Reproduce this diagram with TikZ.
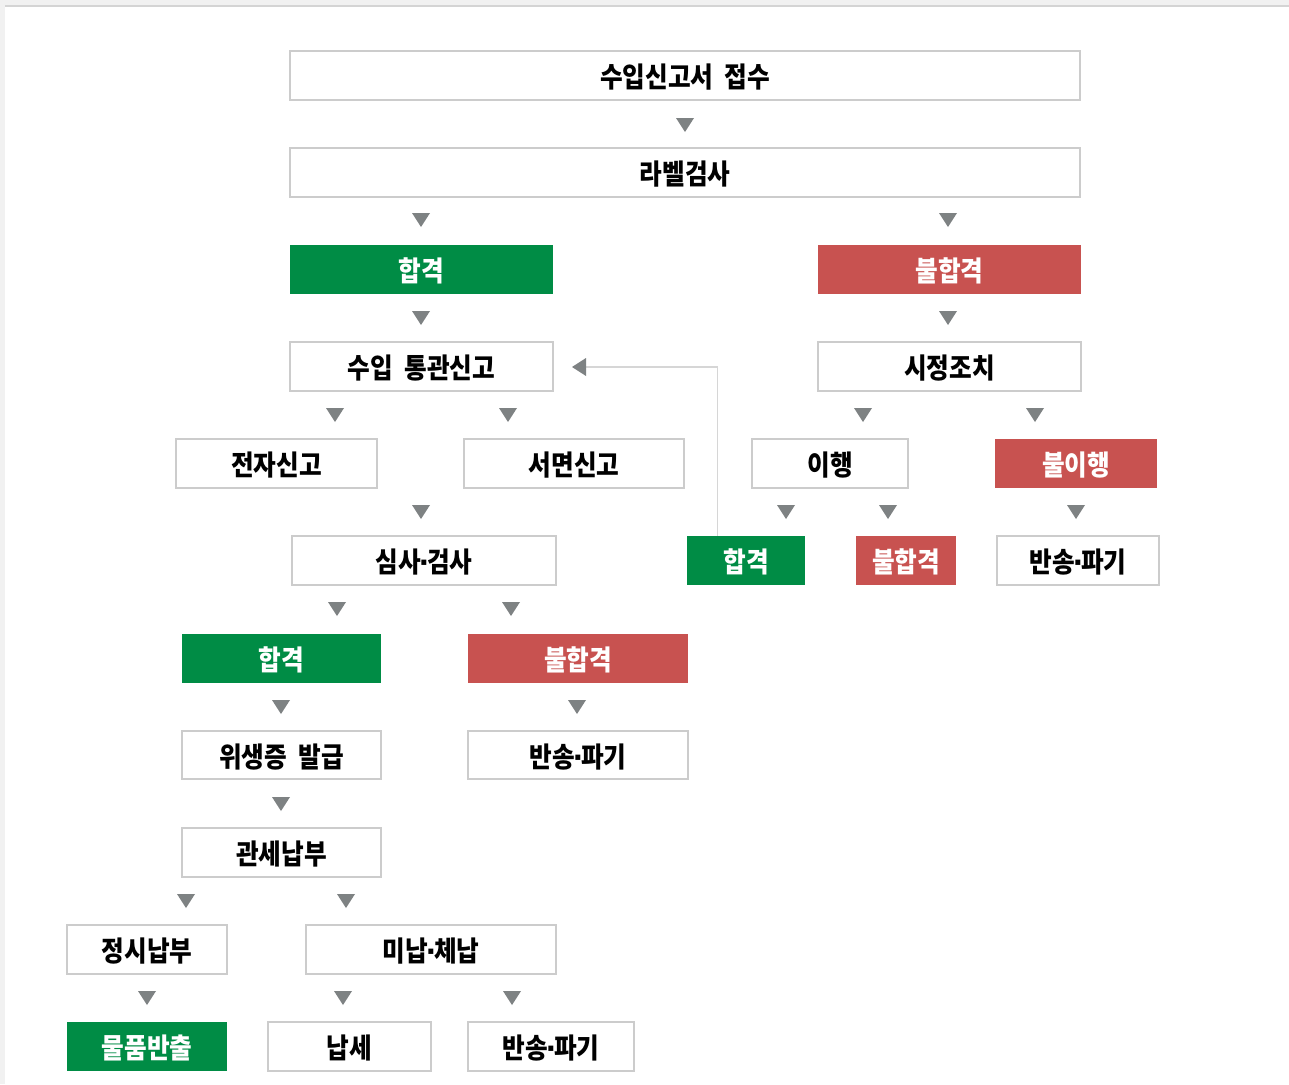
\documentclass[tikz,border=0pt]{standalone}
\usepackage{fontspec}
\newfontfamily\kr{Noto Sans CJK KR}[FakeStretch=0.88]
\newfontfamily\dv{DejaVu Sans}
\definecolor{pass}{HTML}{008C45}
\definecolor{fail}{HTML}{C85250}
\definecolor{edge}{HTML}{CCCCCC}
\definecolor{tri}{HTML}{7E8283}
\definecolor{link}{HTML}{D6D6D6}
\newcommand\md{{\dv\bfseries\kern-.08em·\kern-.08em}}
\tikzset{
  base/.style={rectangle, inner sep=0pt, text height=26pt, text depth=2pt, font=\kr\bfseries\fontsize{28}{28}\selectfont, anchor=center},
  plain/.style={base, draw=edge, line width=1.3pt, fill=white, text=black},
  okbox/.style={base, fill=pass, text=white},
  ngbox/.style={base, fill=fail, text=white},
}
% box from (x1,y1) to (x2,y2) in pixel coords
\newcommand\bx[7]{\node[#1, minimum width=#4-#2, minimum height=#5-#3] (#6) at ({(#2+#4)/2},{(#3+#5)/2}) {#7};}
\newcommand\dn[2]{\fill[tri] (#1-9,#2-7) -- (#1+9,#2-7) -- (#1,#2+7) -- cycle;}
\begin{document}
\begin{tikzpicture}[x=1pt,y=-1pt]
\useasboundingbox (0,0) rectangle (1289,1084);
\fill[fill={rgb,255:red,241;green,241;blue,241}] (0,0) rectangle (1289,1084);
\fill[white] (5,6) rectangle (1289,1084);
\fill[fill={rgb,255:red,212;green,212;blue,212}] (5,5) rectangle (1289,7);
% row 1-2
\bx{plain}{290}{51}{1080}{100}{a}{수입신고서\ \ 접수}
\dn{685}{125}
\bx{plain}{290}{148}{1080}{197}{b}{라벨검사}
\dn{421}{220}\dn{948}{220}
% row 3
\bx{okbox}{290}{245}{553}{294}{c1}{합격}
\bx{ngbox}{818}{245}{1081}{294}{c2}{불합격}
\dn{421}{318}\dn{948}{318}
% row 4
\bx{plain}{290}{342}{553}{391}{d1}{수입\ \ 통관신고}
\bx{plain}{818}{342}{1081}{391}{d2}{시정조치}
\dn{335}{415}\dn{508}{415}\dn{863}{415}\dn{1035}{415}
% row 5
\bx{plain}{176}{439}{377}{488}{e1}{전자신고}
\bx{plain}{464}{439}{684}{488}{e2}{서면신고}
\bx{plain}{752}{439}{908}{488}{e3}{이행}
\bx{ngbox}{995}{439}{1157}{488}{e4}{불이행}
\dn{421}{512}\dn{786}{512}\dn{888}{512}\dn{1076}{512}
% row 6
\bx{plain}{292}{536}{556}{585}{f1}{심사\md 검사}
\bx{okbox}{687}{536}{805}{585}{f2}{합격}
\bx{ngbox}{856}{536}{956}{585}{f3}{불합격}
\bx{plain}{997}{536}{1159}{585}{f4}{반송\md 파기}
% feedback link
\coordinate (tip) at (572,367);
\draw[link, line width=1.3pt] (f2.north west) ++(31,0) |- (585,367);
\fill[tri] (tip) -- ++(14,-9) -- ++(0,18) -- cycle;
\dn{337}{609}\dn{511}{609}
% row 7
\bx{okbox}{182}{634}{381}{683}{g1}{합격}
\bx{ngbox}{468}{634}{688}{683}{g2}{불합격}
\dn{281}{707}\dn{577}{707}
% row 8
\bx{plain}{182}{731}{381}{779}{h1}{위생증\ \ 발급}
\bx{plain}{468}{731}{688}{779}{h2}{반송\md 파기}
\dn{281}{804}
% row 9
\bx{plain}{182}{828}{381}{877}{i1}{관세납부}
\dn{186}{901}\dn{346}{901}
% row 10
\bx{plain}{67}{925}{227}{974}{j1}{정시납부}
\bx{plain}{306}{925}{556}{974}{j2}{미납\md 체납}
\dn{147}{998}\dn{343}{998}\dn{512}{998}
% row 11
\bx{okbox}{67}{1022}{227}{1071}{k1}{물품반출}
\bx{plain}{268}{1022}{431}{1071}{k2}{납세}
\bx{plain}{468}{1022}{634}{1071}{k3}{반송\md 파기}
\end{tikzpicture}
\end{document}
